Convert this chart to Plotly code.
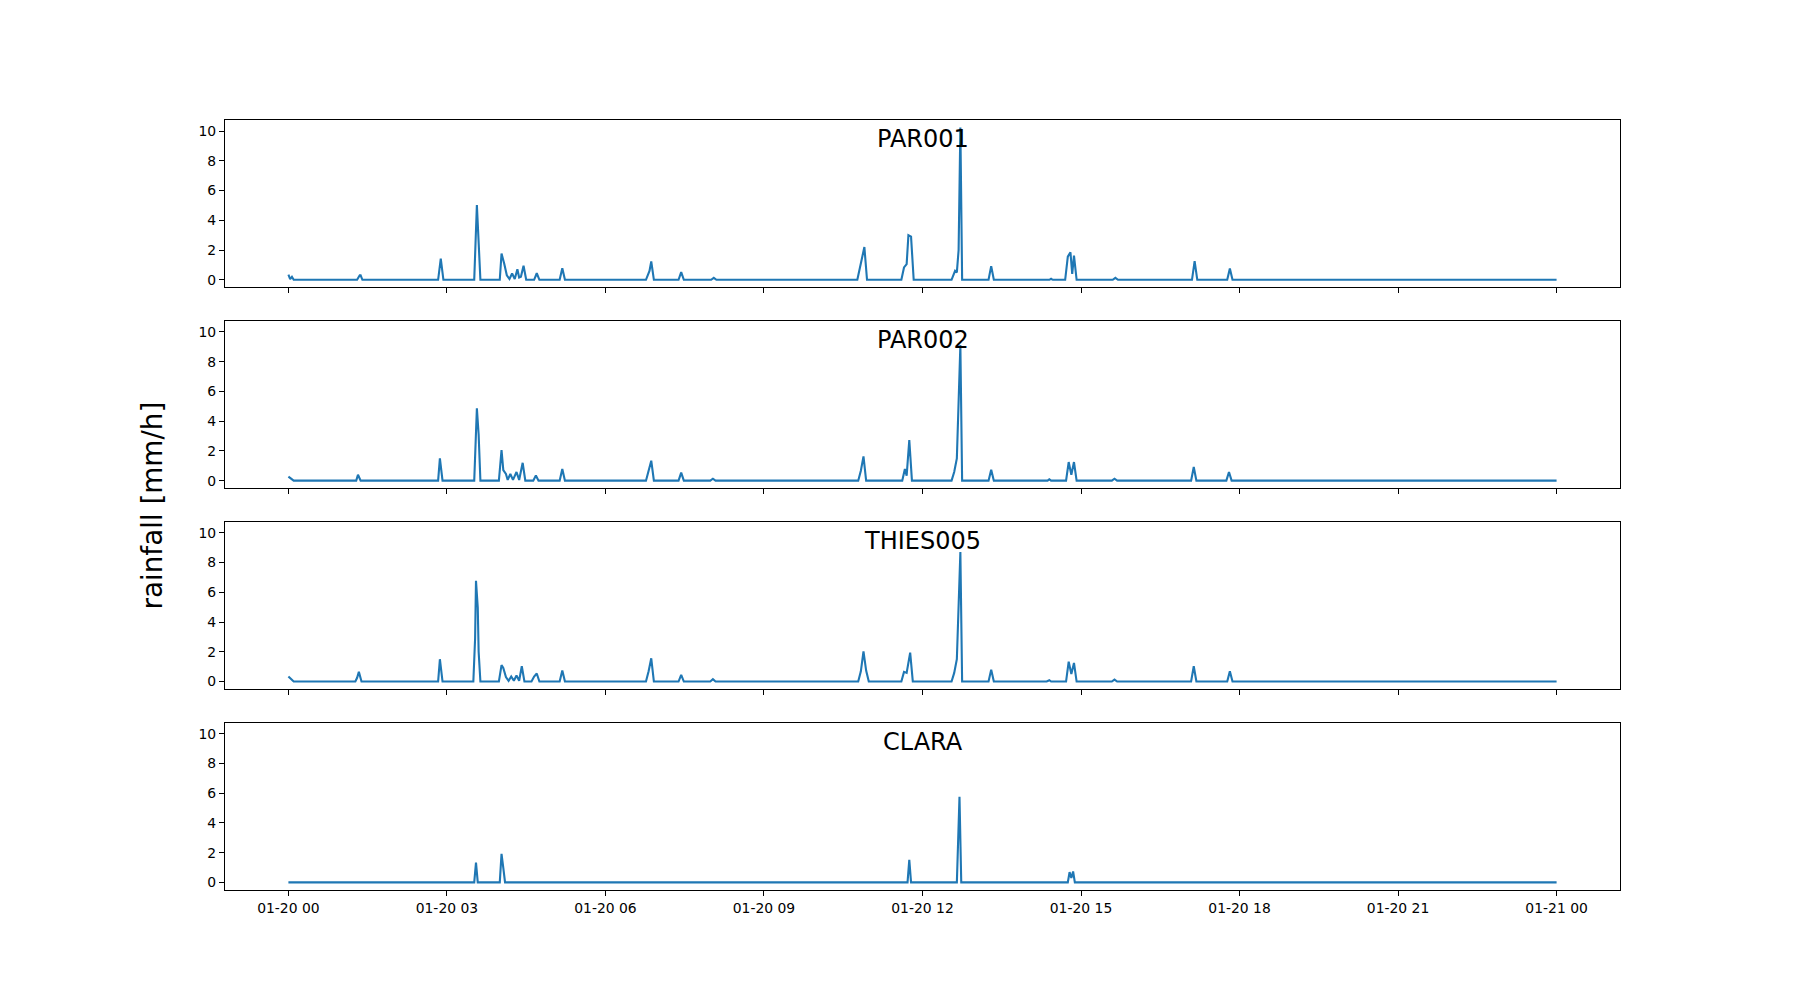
import pandas as pd
import plotly.graph_objects as go
from plotly.subplots import make_subplots

# rainfall per station, minutes after 2021-01-20 00:00 and mm/h
stations = ['PAR001', 'PAR002', 'THIES005', 'CLARA']

par001_min = [0, 2, 4, 6, 78, 80, 81, 82, 84, 170, 173, 176, 211, 214, 216, 218,
              240, 242, 245, 248, 251, 254, 257, 260, 262, 264, 267, 270,
              279, 282, 285, 308, 311, 314, 406, 410, 412, 415, 443, 446, 449,
              480, 483, 486, 646, 650, 654, 657, 696, 699, 702, 704, 707, 710,
              753, 757, 759, 761, 763, 765, 795, 798, 801, 864, 866, 868,
              882, 885, 888, 890, 892, 895, 936, 939, 942, 1026, 1029, 1032,
              1066, 1069, 1072, 1440]
par001_val = [0.35, 0.05, 0.2, 0, 0, 0.2, 0.3, 0.3, 0, 0, 1.43, 0, 0, 5.03, 2.8, 0,
              0, 1.76, 1.1, 0.3, 0.05, 0.42, 0.05, 0.71, 0.15, 0.2, 0.94, 0,
              0, 0.44, 0, 0, 0.78, 0, 0, 0.6, 1.23, 0, 0, 0.51, 0,
              0, 0.13, 0, 0, 1.05, 2.2, 0, 0, 0.83, 1.05, 3.0, 2.9, 0,
              0, 0.6, 0.5, 2.0, 10.23, 0, 0, 0.92, 0, 0, 0.07, 0,
              0, 1.56, 1.85, 0.4, 1.63, 0, 0, 0.13, 0, 0, 1.25, 0,
              0, 0.76, 0, 0]

par002_min = [0, 4, 6, 77, 79, 82, 170, 172, 175, 211, 214, 216, 218,
              239, 242, 244, 247, 249, 252, 255, 259, 262, 266, 269,
              278, 281, 284, 308, 311, 314, 406, 409, 412, 415, 443, 446, 449,
              479, 482, 485, 647, 650, 653, 656, 697, 700, 702, 705, 708,
              753, 756, 759, 763, 765, 795, 798, 801, 862, 864, 866,
              883, 886, 889, 892, 895, 935, 938, 941, 1025, 1028, 1031,
              1065, 1068, 1071, 1440]
par002_val = [0.27, 0.11, 0, 0, 0.4, 0, 0, 1.5, 0, 0, 4.87, 3.1, 0,
              0, 2.06, 0.71, 0.45, 0.05, 0.45, 0.05, 0.58, 0.05, 1.2, 0,
              0, 0.34, 0, 0, 0.78, 0, 0, 0.67, 1.34, 0, 0, 0.54, 0,
              0, 0.13, 0, 0, 0.67, 1.63, 0, 0, 0.78, 0.34, 2.73, 0,
              0, 0.58, 1.5, 9.11, 0, 0, 0.74, 0, 0, 0.09, 0,
              0, 1.25, 0.4, 1.25, 0, 0, 0.13, 0, 0, 0.92, 0,
              0, 0.58, 0, 0]

thies005_min = [0, 4, 6, 76, 78, 80, 83, 170, 172, 175, 210, 212, 213, 215, 216, 218,
                239, 242, 244, 247, 250, 253, 256, 259, 262, 265, 268,
                276, 279, 282, 285, 308, 311, 314, 406, 409, 412, 415, 443, 446, 449,
                479, 482, 485, 647, 650, 653, 656, 659, 696, 699, 702, 706, 709,
                753, 756, 759, 763, 765, 795, 798, 801, 861, 864, 866,
                883, 886, 889, 892, 895, 935, 938, 941, 1025, 1028, 1031,
                1066, 1069, 1072, 1440]
thies005_val = [0.34, 0.09, 0, 0, 0.25, 0.65, 0, 0, 1.5, 0, 0, 2.9, 6.77, 4.98, 2.0, 0,
                0, 1.1, 0.92, 0.3, 0.05, 0.34, 0.05, 0.4, 0.05, 1.03, 0,
                0, 0.34, 0.54, 0, 0, 0.74, 0, 0, 0.69, 1.56, 0, 0, 0.45, 0,
                0, 0.16, 0, 0, 0.69, 2.03, 0.74, 0, 0, 0.65, 0.58, 1.94, 0,
                0, 0.58, 1.5, 8.71, 0, 0, 0.8, 0, 0, 0.09, 0,
                0, 1.34, 0.51, 1.25, 0, 0, 0.13, 0, 0, 1.03, 0,
                0, 0.69, 0, 0]

clara_min = [0, 211, 213, 215, 240, 242, 244, 246, 703, 705, 707, 759, 762, 764,
             885, 887, 889, 891, 893, 1440]
clara_val = [0, 0, 1.34, 0, 0, 1.92, 0.98, 0, 0, 1.52, 0, 0, 5.76, 0,
             0, 0.69, 0.3, 0.74, 0, 0]

series = [(par001_min, par001_val), (par002_min, par002_val),
          (thies005_min, thies005_val), (clara_min, clara_val)]

start = pd.Timestamp('2021-01-20 00:00')
font = 'DejaVu Sans'

fig = make_subplots(rows=4, cols=1, shared_xaxes=True, vertical_spacing=0.0435)

for i, (mins, vals) in enumerate(series, start=1):
    t = start + pd.to_timedelta(mins, unit='m')
    fig.add_trace(go.Scatter(x=t, y=vals, mode='lines',
                             line=dict(color='#1f77b4', width=2.1),
                             showlegend=False), row=i, col=1)
    fig.add_annotation(text=stations[i - 1], xref=f'x{i} domain' if i > 1 else 'x domain',
                       yref=f'y{i} domain' if i > 1 else 'y domain',
                       x=0.5, y=0.885, xanchor='center', yanchor='middle',
                       showarrow=False, font=dict(family=font, size=24, color='black'))

fig.update_xaxes(type='date', range=['2021-01-19 22:48', '2021-01-21 01:12'],
                 tick0='2021-01-20 00:00', dtick=3 * 3600 * 1000, tickformat='%m-%d %H',
                 showline=True, mirror=True, linecolor='black', linewidth=1.1,
                 ticks='outside', ticklen=5, tickwidth=1.1, tickcolor='black',
                 showgrid=False, zeroline=False,
                 tickfont=dict(family=font, size=13.9, color='black'))
fig.update_yaxes(range=[-0.51, 10.74], tickvals=[0, 2, 4, 6, 8, 10],
                 showline=True, mirror=True, linecolor='black', linewidth=1.1,
                 ticks='outside', ticklen=5, tickwidth=1.1, tickcolor='black',
                 showgrid=False, zeroline=False,
                 tickfont=dict(family=font, size=13.9, color='black'))

fig.add_annotation(text='rainfall [mm/h]', xref='paper', yref='paper',
                   x=-0.052, y=0.5, xanchor='center', yanchor='middle',
                   textangle=-90, showarrow=False,
                   font=dict(family=font, size=27.8, color='black'))

# page has an 8px body margin, so the figure is drawn 16px smaller
fig.update_layout(width=1784, height=984, plot_bgcolor='white', paper_bgcolor='white',
                  margin=dict(l=217, r=172, t=112, b=102),
                  font=dict(family=font, color='black'))

fig.write_html('out.html')
